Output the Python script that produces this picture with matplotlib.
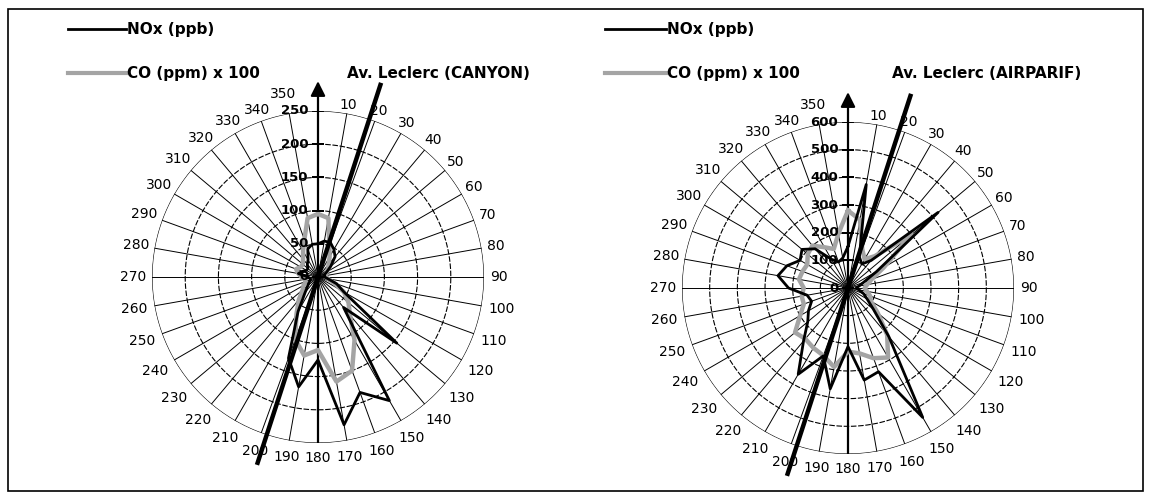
import numpy as np
import matplotlib.pyplot as plt
from matplotlib.lines import Line2D
from matplotlib.patches import Rectangle

W, H = 1151, 498

# wind direction sectors (degrees, clockwise from north)
angles = list(range(0, 360, 10))
angle_labels = [str(a) for a in angles]

# Av. Leclerc (CANYON) - left panel
canyon_nox = [50, 55, 55, 48, 40, 25, 15, 10, 10, 10, 15, 30, 45, 155, 60, 215, 185, 226,
              125, 168, 130, 60, 30, 20, 15, 12, 12, 15, 30, 25, 20, 20, 25, 30, 45, 50]
canyon_co = [95, 90, 50, 35, 25, 20, 15, 12, 12, 12, 15, 25, 45, 60, 75, 110, 150, 160,
             110, 120, 100, 65, 45, 30, 25, 20, 20, 25, 30, 35, 30, 30, 35, 45, 60, 90]
canyon_rticks = [0, 50, 100, 150, 200, 250]

# Av. Leclerc (AIRPARIF) - right panel
airparif_nox = [150, 380, 120, 100, 130, 425, 120, 60, 40, 30, 40, 60, 80, 120, 230, 540, 322, 338,
                212, 370, 261, 360, 250, 190, 165, 140, 150, 215, 257, 235, 200, 217, 185, 120, 100, 110]
airparif_co = [280, 250, 150, 120, 150, 300, 150, 90, 70, 60, 70, 85, 95, 140, 220, 290, 270, 240,
               230, 290, 260, 250, 240, 250, 200, 170, 170, 160, 180, 175, 170, 190, 200, 170, 150, 200]
airparif_rticks = [0, 100, 200, 300, 400, 500, 600]

street_bearing = 18
legend_labels = ['NOx (ppb)', 'CO (ppm) x 100']
titles = ['Av. Leclerc (CANYON)', 'Av. Leclerc (AIRPARIF)']

fig = plt.figure(figsize=(W / 100, H / 100), dpi=100)
fig.patch.set_facecolor('white')


def fx(x):
    return x / W


def fy(y):
    return 1 - y / H


def panel(cx, cy, R, rticks, nox, co, title, leg_x0, leg_x1, title_x):
    rmax = rticks[-1]
    ax = fig.add_axes([(cx - R) / W, (H - cy - R) / H, 2 * R / W, 2 * R / H], projection='polar')
    ax.set_theta_zero_location('N')
    ax.set_theta_direction(-1)
    ax.set_ylim(0, rmax)
    ax.axis('off')

    # grid: spokes and rings
    for a in angles:
        t = np.radians(a)
        ax.plot([t, t], [0, rmax], color='k', lw=0.7, zorder=1)
    tc = np.linspace(0, 2 * np.pi, 361)
    for r in rticks[1:]:
        ls = '-' if r == rmax else (0, (5, 1.5))
        ax.plot(tc, np.full_like(tc, r), color='k', lw=0.8, ls=ls, zorder=1)

    # north-south axis with arrow
    ax.plot([np.pi, np.pi], [0, rmax], color='k', lw=1.6, zorder=3)
    ax.annotate('', xy=(0, 1.18 * rmax), xytext=(0, 0),
                arrowprops=dict(arrowstyle='-|>', color='k', lw=1.6, mutation_scale=22,
                                shrinkA=0, shrinkB=0),
                annotation_clip=False, zorder=3)

    # data
    th = np.radians(angles + [angles[0]])
    ax.plot(th, co + [co[0]], color='#a4a4a4', lw=3.2, zorder=4, clip_on=False)
    ax.plot(th, nox + [nox[0]], color='k', lw=2.0, zorder=5, clip_on=False)

    # street axis
    b = np.radians(street_bearing)
    ax.plot([b, b], [0, 1.23 * rmax], color='k', lw=3.2, clip_on=False, zorder=6,
            solid_capstyle='butt')
    ax.plot([b + np.pi, b + np.pi], [0, 1.19 * rmax], color='k', lw=3.2, clip_on=False,
            zorder=6, solid_capstyle='butt')

    # direction labels, placed just outside the circle (gap grows toward the bottom)
    for a, lbl in zip(angles, angle_labels):
        if a == 0:
            continue
        t = np.radians(a)
        s, c = np.sin(t), np.cos(t)
        w = len(lbl) * 6.3      # approx text width in points
        h = 7.5                 # approx text height in points
        gap = 1.5 + 5.5 * (1 - c) / 2
        d = gap + 0.5 * (w * abs(s) + h * abs(c))
        dx, dy = d * s, d * c
        if a == 350:            # lift 350 above the top radial label
            dx -= 3
            dy += 7
        ax.annotate(lbl, xy=(t, rmax), xytext=(dx, dy), textcoords='offset points',
                    ha='center', va='center', fontsize=10, annotation_clip=False, zorder=7)

    # radial labels
    for r in rticks:
        ax.plot([0], [r], marker='_', ms=9, mew=1.2, color='k', zorder=7)
        ax.annotate(str(r), xy=(0, r), xytext=(-7, 0), textcoords='offset points',
                    ha='right', va='center', fontsize=9.5, fontweight='bold', zorder=8)

    # legend and title
    fig.add_artist(Line2D([fx(leg_x0), fx(leg_x1)], [fy(29), fy(29)], color='k', lw=2.0))
    fig.add_artist(Line2D([fx(leg_x0), fx(leg_x1)], [fy(73), fy(73)], color='#a4a4a4', lw=3.0))
    fig.text(fx(leg_x1 + 1), fy(29), legend_labels[0], ha='left', va='center',
             fontsize=11, fontweight='bold')
    fig.text(fx(leg_x1 + 1), fy(73), legend_labels[1], ha='left', va='center',
             fontsize=11, fontweight='bold')
    fig.text(fx(title_x), fy(73), title, ha='left', va='center', fontsize=11, fontweight='bold')


panel(318, 277, 166, canyon_rticks, canyon_nox, canyon_co, titles[0], 68, 126, 347)
panel(848, 288, 166, airparif_rticks, airparif_nox, airparif_co, titles[1], 605, 666, 892)

fig.add_artist(Rectangle((fx(8), fy(491)), (1143 - 8) / W, (491 - 9) / H,
                         transform=fig.transFigure, fill=False, ec='k', lw=1.2))

fig.savefig('out.png', dpi=100)
